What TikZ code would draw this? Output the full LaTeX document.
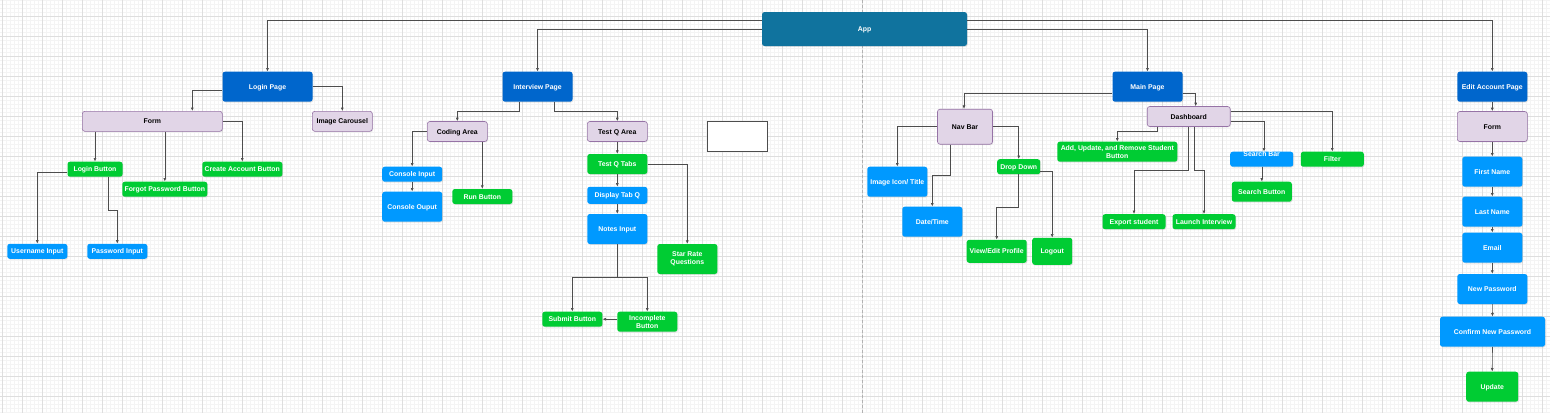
\documentclass[tikz,border=0pt]{standalone}
\usepackage{fontspec}
\setmainfont{Liberation Sans}
\usetikzlibrary{
    arrows.meta,
    shadows
}
\definecolor{appteal}{HTML}{10739E}
\definecolor{pageblue}{HTML}{0066CC}
\definecolor{inputblue}{HTML}{0099FF}
\definecolor{buttongreen}{HTML}{00CC33}
\definecolor{areafill}{HTML}{E1D5E7}
\definecolor{areadraw}{HTML}{9673A6}
\definecolor{linegray}{HTML}{4D4D4D}
\definecolor{majorgrid}{HTML}{DEDEDE}
\definecolor{minorgrid}{HTML}{F4F4F4}
\newcommand{\boxfont}{\fontsize{6.9}{8}\selectfont\bfseries}
\tikzset {
    base box/.style = {
        rounded corners = 2.5pt,
        inner sep = 0pt,
        align = center,
        font = \boxfont,
        text height = 5pt,
        text depth = 0pt,
        drop shadow = {shadow xshift = 0.8pt, shadow yshift = -0.8pt, opacity = 0.2}
    },
    two lines/.style = {text height = {}, text depth = {}},
    box size/.style 2 args = {minimum width = #1, minimum height = #2},
    app box/.style = {base box, fill = appteal, text = white},
    page box/.style = {base box, fill = pageblue, text = white},
    area box/.style = {base box, fill = areafill, draw = areadraw, line width = 0.6pt, text = black},
    input box/.style = {base box, fill = inputblue, text = white},
    button box/.style = {base box, fill = buttongreen, text = white},
    blank box/.style = {draw = linegray, fill = white, line width = 0.8pt, inner sep = 0pt},
    %
    link/.style = {draw = linegray, line width = 0.6pt, -{Latex[length = 3.5pt, width = 3pt]}},
    minor line/.style = {draw = minorgrid, line width = 0.5pt},
    major line/.style = {draw = majorgrid, line width = 0.7pt},
    divider/.style = {draw = black!30, line width = 0.6pt, dash pattern = on 3pt off 2pt}
}
\begin{document}
\begin{tikzpicture}[x = 1pt, y = -1pt]
    \useasboundingbox (0, 0) rectangle (1550, 413);
    \fill[white] (0, 0) rectangle (1550, 413);
    % background grid
    \foreach \gx in {2.3, 6.3, ..., 1550} {\draw[minor line] (\gx, 0) -- (\gx, 413);}
    \foreach \gy in {0, 4, ..., 412} {\draw[minor line] (0, \gy) -- (1550, \gy);}
    \foreach \gx in {2.3, 22.3, ..., 1550} {\draw[major line] (\gx, 0) -- (\gx, 413);}
    \foreach \gy in {16, 36, ..., 412} {\draw[major line] (0, \gy) -- (1550, \gy);}
    \coordinate (divider top) at (862, 0);
    \coordinate (divider bottom) at (862, 413);
    \draw[divider] (divider top) -- (divider bottom);

    % root
    \node (app) [app box, box size = {205}{34}] at (864.5, 29) {App};

    % login page
    \node (login) [page box, box size = {90}{30}] at (267.5, 86.7) {Login Page};
    \node (loginform) [area box, box size = {140}{20}] at (152.3, 121.3) {Form};
    \node (carousel) [area box, box size = {60}{20}] at (342.3, 121.3) {Image Carousel};
    \node (loginbtn) [button box, box size = {55}{15}] at (95, 169.2) {Login Button};
    \node (forgot) [button box, box size = {85}{15}] at (164.8, 189.2) {Forgot Password Button};
    \node (create) [button box, box size = {80}{15}] at (242.3, 169.2) {Create Account Button};
    \node (username) [input box, box size = {60}{15}] at (37.3, 251.3) {Username Input};
    \node (password) [input box, box size = {60}{15}] at (117.3, 251.3) {Password Input};

    % interview page
    \node (interview) [page box, box size = {70}{30}] at (537.5, 86.7) {Interview Page};
    \node (coding) [area box, box size = {60}{20}] at (457.3, 131.5) {Coding Area};
    \node (testq) [area box, box size = {60}{20}] at (617.3, 131.5) {Test Q Area};
    \node (consolein) [input box, box size = {60}{15}] at (412.2, 174.2) {Console Input};
    \node (consoleout) [input box, box size = {60}{30}] at (412.2, 206.7) {Console Ouput};
    \node (run) [button box, box size = {60}{15}] at (482.3, 196.5) {Run Button};
    \node (tabs) [button box, box size = {60}{20}] at (617.3, 164) {Test Q Tabs};
    \node (display) [input box, box size = {60}{17}] at (617.3, 195.3) {Display Tab Q};
    \node (notes) [input box, box size = {60}{30}] at (617.3, 229) {Notes Input};
    \node (star) [button box, two lines, box size = {60}{30}] at (687.3, 259) {Star Rate\\Questions};
    \node (submit) [button box, box size = {60}{15}] at (572.3, 319.2) {Submit Button};
    \node (incomplete) [button box, two lines, box size = {60}{20}] at (647.3, 321.7) {Incomplete\\Button};
    \node (blank) [blank box, box size = {60}{30}] at (737.3, 136.7) {};

    % main page
    \node (main) [page box, box size = {70}{30}] at (1147.5, 86.7) {Main Page};
    \node (navbar) [area box, box size = {55}{35}] at (965, 126.7) {Nav Bar};
    \node (dashboard) [area box, box size = {83}{20}] at (1188.7, 116.5) {Dashboard};
    \node (imageicon) [input box, box size = {60}{30}] at (897.3, 181.7) {Image Icon/ Title};
    \node (datetime) [input box, box size = {60}{30}] at (932.3, 221.7) {Date/Time};
    \node (dropdown) [button box, box size = {43}{15}] at (1018.7, 166.7) {Drop Down};
    \node (viewedit) [button box, box size = {60}{23}] at (996.7, 251.3) {View/Edit Profile};
    \node (logout) [button box, box size = {40}{27}] at (1052.2, 251.3) {Logout};
    \node (addstudent) [button box, two lines, box size = {120}{20}] at (1117.3, 151.7) {Add, Update, and Remove Student\\Button};
    \node (export) [button box, box size = {63}{15}] at (1134, 221.7) {Export student};
    \node (launch) [button box, box size = {63}{15}] at (1204, 221.7) {Launch Interview};
    \node (searchbar) [input box, box size = {63}{15}] at (1261.7, 159.2) {\raisebox{4.9pt}[0pt][0pt]{Search Bar}};
    \node (filter) [button box, box size = {63}{15}] at (1332.3, 159.2) {Filter};
    \node (searchbtn) [button box, box size = {60}{20}] at (1261.8, 191.7) {Search Button};

    % edit account page
    \node (editpage) [page box, box size = {70}{30}] at (1492.3, 86.7) {Edit Account Page};
    \node (editform) [area box, box size = {70}{30}] at (1492.3, 126.5) {Form};
    \node (first) [input box, box size = {60}{30}] at (1492.3, 171.7) {First Name};
    \node (last) [input box, box size = {60}{30}] at (1492.3, 211.7) {Last Name};
    \node (email) [input box, box size = {60}{30}] at (1492.3, 247.7) {Email};
    \node (newpw) [input box, box size = {70}{30}] at (1492.3, 289) {New Password};
    \node (confirm) [input box, box size = {105}{30}] at (1492.5, 331.7) {Confirm New Password};
    \node (update) [button box, box size = {52}{30}] at (1492.2, 386.7) {Update};

    % connectors from the root
    \draw[link] ([yshift = 9pt]app.west) -| (login.north);
    \draw[link] (app.west) -| (interview.north);
    \draw[link] (app.east) -| (main.north);
    \draw[link] ([yshift = 9pt]app.east) -| (editpage.north);

    % login connectors
    \draw[link] ([yshift = -4pt]login.west) -| ([xshift = 40pt]loginform.north);
    \draw[link] (login.east) -| (carousel.north);
    \draw[link] (loginbtn.north |- loginform.south) -- (loginbtn.north);
    \draw[link] (forgot.north |- loginform.south) -- (forgot.north);
    \draw[link] (loginform.east) -| (create.north);
    \draw[link] ([yshift = -3.5pt]loginbtn.west) -| (username.north);
    \draw[link] ([xshift = 13.3pt]loginbtn.south) -- ++(0, 33.6) -| (password.north);

    % interview connectors
    \draw[link] ([xshift = -18.2pt]interview.south) -- ++(0, 9.3) -| (coding.north);
    \draw[link] ([xshift = 16.8pt]interview.south) -- ++(0, 9.3) -| (testq.north);
    \draw[link] (coding.west) -| (consolein.north);
    \draw[link] (run.north |- coding.south) -- (run.north);
    \draw[link] (consolein.south) -- (consoleout.north);
    \draw[link] (testq.south) -- (tabs.north);
    \draw[link] (tabs.south) -- (display.north);
    \draw[link] (display.south) -- (notes.north);
    \draw[link] (tabs.east) -| (star.north);
    \draw[link] (notes.south) -- ++(0, 33.3) -| (submit.north);
    \draw[link] (notes.south) -- ++(0, 33.3) -| (incomplete.north);
    \draw[link] (incomplete.west |- submit.east) -- (submit.east);

    % main page connectors
    \draw[link] ([yshift = -7pt]main.west) -| ([xshift = -1pt]navbar.north);
    \draw[link] ([yshift = -7pt]main.east) -| ([xshift = 7pt]dashboard.north);
    \draw[link] (navbar.west) -| (imageicon.north);
    \draw[link] ([xshift = -14.3pt]navbar.south) -- ++(0, 31) -| (datetime.north);
    \draw[link] (navbar.east) -| (dropdown.north);
    \draw[link] (dropdown.south) -- ++(0, 32.4) -| (viewedit.north);
    \draw[link] ([yshift = -4.6pt]dropdown.east) -| (logout.north);
    \draw[link] ([xshift = -31.4pt]dashboard.south) -- ++(0, 4.3) -| (addstudent.north);
    \draw[link] (dashboard.south) -- ++(0, 43.3) -| (export.north);
    \draw[link] ([xshift = 5.3pt]dashboard.south) -- ++(0, 43.3) -| (launch.north);
    \draw[link] ([yshift = -4.5pt]dashboard.east) -| ([xshift = 2.3pt]searchbar.north);
    \draw[link] ([yshift = 5.5pt]dashboard.east) -| (filter.north);
    \draw[link] (searchbtn.north |- searchbar.south) -- (searchbtn.north);

    % edit account connectors
    \draw[link] (editpage.south) -- (editform.north);
    \draw[link] (editform.south) -- (first.north);
    \draw[link] (first.south) -- (last.north);
    \draw[link] (last.south) -- (email.north);
    \draw[link] (email.south) -- (newpw.north);
    \draw[link] (newpw.south) -- (confirm.north);
    \draw[link] (confirm.south) -- (update.north);
\end{tikzpicture}
\end{document}
